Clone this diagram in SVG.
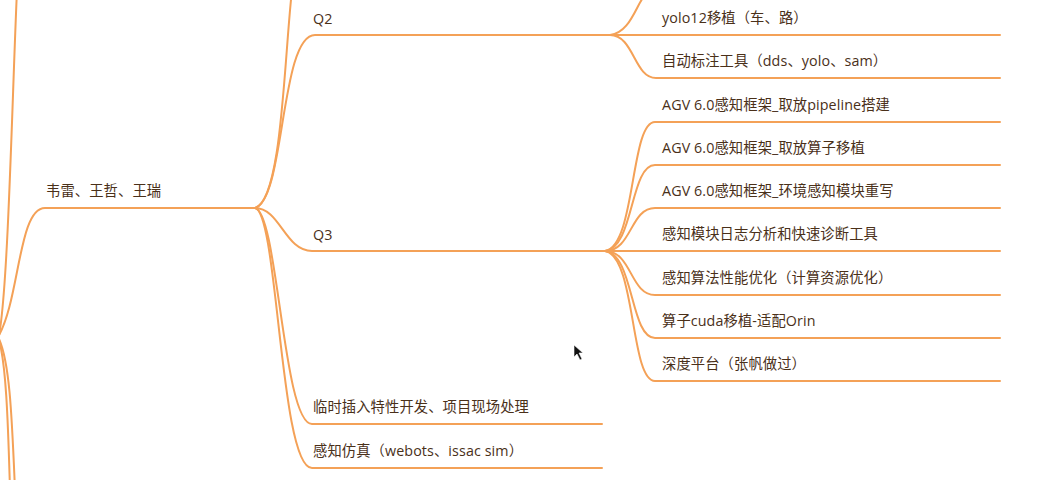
<svg xmlns="http://www.w3.org/2000/svg" width="1052" height="480" viewBox="0 0 1052 480">
<style>
.c{fill:none;stroke:#F4A157;stroke-width:2;stroke-linecap:round}
.t{font-family:"Open Sans","Noto Sans CJK SC",sans-serif;font-size:14.3px;fill:#4a3019;letter-spacing:0.1px}
</style>
<rect width="1052" height="480" fill="#ffffff"/>
<g id="connectors">
  <path class="c" d="M -2,340 C 8,300 12,100 17,-10"/>
  <path class="c" d="M -2,337 C 20,300 18,208 45,208 L 255,208"/>
  <path class="c" d="M -2,337 C 6,360 8,420 10,490"/>
  <path class="c" d="M -2,337 C 10,360 12,420 15,490"/>
  <path class="c" d="M 255,208 C 282,200 284,60 292,-10"/>
  <path class="c" d="M 255,208 C 285,200 280,35 315,35 L 1000,35"/>
  <path class="c" d="M 255,208 C 280,208 285,251 312,251 L 1000,251"/>
  <path class="c" d="M 255,208 C 278,212 283,424 312,424 L 602,424"/>
  <path class="c" d="M 255,208 C 278,212 280,468 312,468 L 602,468"/>
  <path class="c" d="M 610,35 C 630,33 636,5 645,-5"/>
  <path class="c" d="M 610,35 C 634,35 634,78 656,78 L 1000,78"/>
  <path class="c" d="M 605,251 C 636,246 630,122 655,122 L 1000,122"/>
  <path class="c" d="M 605,251 C 634,248 630,165 655,165 L 1000,165"/>
  <path class="c" d="M 605,251 C 632,251 630,208 655,208 L 1000,208"/>
  <path class="c" d="M 605,251 C 632,251 630,295 655,295 L 1000,295"/>
  <path class="c" d="M 605,251 C 634,254 630,338 655,338 L 1000,338"/>
  <path class="c" d="M 605,251 C 636,256 630,381 655,381 L 1000,381"/>
</g>
<g id="n-weilei"><text class="t" x="46" y="196">韦雷、王哲、王瑞</text></g>
<g id="n-q2"><text class="t" x="313" y="24">Q2</text></g>
<g id="n-q3"><text class="t" x="313" y="240">Q3</text></g>
<g id="n-linshi"><text class="t" x="313" y="412">临时插入特性开发、项目现场处理</text></g>
<g id="n-fangzhen"><text class="t" x="313" y="456">感知仿真（webots、issac sim）</text></g>
<g id="n-yolo12"><text class="t" x="662" y="23">yolo12移植（车、路）</text></g>
<g id="n-biaozhu"><text class="t" x="662" y="66">自动标注工具（dds、yolo、sam）</text></g>
<g id="n-agv1"><text class="t" x="662" y="110">AGV 6.0感知框架_取放pipeline搭建</text></g>
<g id="n-agv2"><text class="t" x="662" y="153">AGV 6.0感知框架_取放算子移植</text></g>
<g id="n-agv3"><text class="t" x="662" y="196">AGV 6.0感知框架_环境感知模块重写</text></g>
<g id="n-log"><text class="t" x="662" y="239">感知模块日志分析和快速诊断工具</text></g>
<g id="n-perf"><text class="t" x="662" y="283">感知算法性能优化（计算资源优化）</text></g>
<g id="n-cuda"><text class="t" x="662" y="326">算子cuda移植-适配Orin</text></g>
<g id="n-depth"><text class="t" x="662" y="369">深度平台（张帆做过）</text></g>
<path d="M 574,345 L 574,357 L 577,354 L 580,360 L 582,359 L 579,353 L 583,353 Z" fill="#111" stroke="#fff" stroke-width="0.6"/>
</svg>
